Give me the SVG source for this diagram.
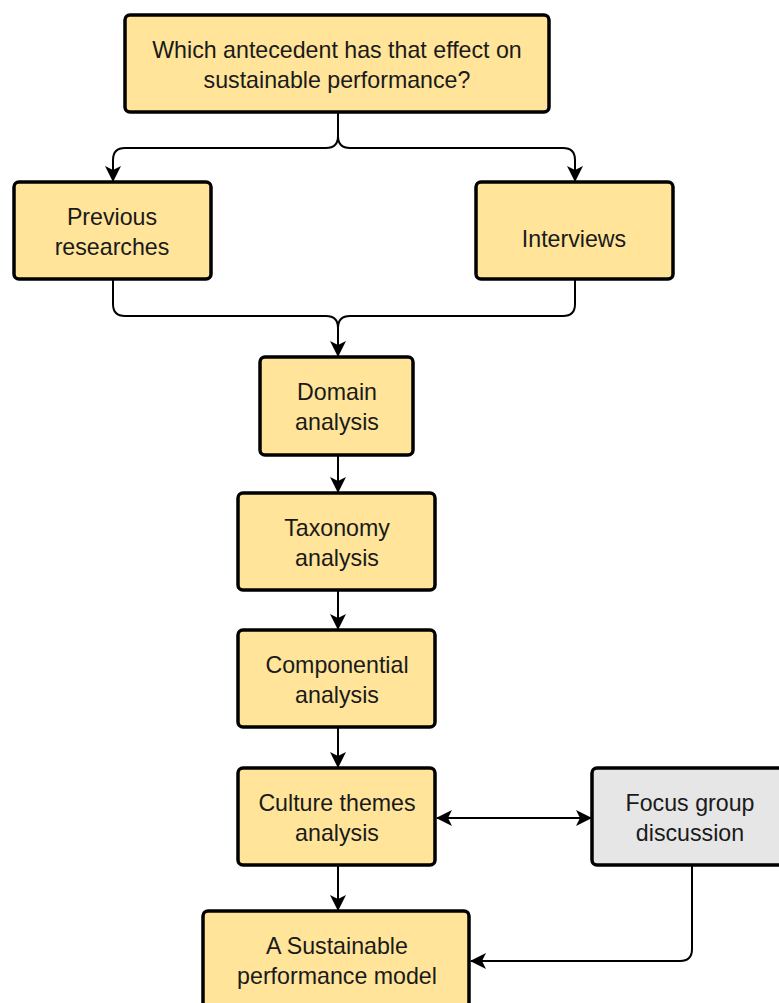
<svg xmlns="http://www.w3.org/2000/svg" width="779" height="1003" viewBox="0 0 779 1003">
<style>
.box{fill:#FFE499;stroke:#000;stroke-width:3.5}
.grey{fill:#E6E6E6;stroke:#000;stroke-width:3.5}
.t{font-family:"Liberation Sans",Arial,sans-serif;font-size:23.2px;fill:#1a1a1a;text-anchor:middle}
.c{fill:none;stroke:#000;stroke-width:2}
</style>
<defs>
<marker id="ah" viewBox="0 0 16 16" refX="15" refY="8" markerWidth="16" markerHeight="16" markerUnits="userSpaceOnUse" orient="auto-start-reverse">
<path d="M0,0 L16,8 L0,16 L4,8 z" fill="#000"/>
</marker>
</defs>
<rect width="779" height="1003" fill="#fff"/>
<g id="connectors">
<path class="c" d="M338,112 V136 Q338,148 326,148 H125 Q113,148 113,160 V181" marker-end="url(#ah)"/>
<path class="c" d="M338,136 Q338,148 350,148 H563 Q575,148 575,160 V181"  marker-end="url(#ah)"/>
<path class="c" d="M113,279 V304 Q113,316 125,316 H326 Q338,316 338,328 V356" marker-end="url(#ah)"/>
<path class="c" d="M575,279 V304 Q575,316 563,316 H350 Q338,316 338,328"/>
<path class="c" d="M338,455 V492" marker-end="url(#ah)"/>
<path class="c" d="M338,590 V629" marker-end="url(#ah)"/>
<path class="c" d="M338,727 V767" marker-end="url(#ah)"/>
<path class="c" d="M338,865 V910" marker-end="url(#ah)"/>
<path class="c" d="M437,818 H591" marker-start="url(#ah)" marker-end="url(#ah)"/>
<path class="c" d="M692,865 V949 Q692,961 680,961 H471" marker-end="url(#ah)"/>
</g>
<g id="n-question"><rect class="box" x="125" y="15" width="424" height="97" rx="5"/><text class="t" x="337" y="58">Which antecedent has that effect on</text><text class="t" x="337" y="88">sustainable performance?</text></g>
<g id="n-previous"><rect class="box" x="14" y="182" width="197" height="97" rx="5"/><text class="t" x="112" y="225">Previous</text><text class="t" x="112" y="255">researches</text></g>
<g id="n-interviews"><rect class="box" x="476" y="182" width="197" height="97" rx="5"/><text class="t" x="574" y="247">Interviews</text></g>
<g id="n-domain"><rect class="box" x="260" y="357" width="153" height="98" rx="5"/><text class="t" x="337" y="400">Domain</text><text class="t" x="337" y="430">analysis</text></g>
<g id="n-taxonomy"><rect class="box" x="238" y="493" width="197" height="97" rx="5"/><text class="t" x="337" y="536">Taxonomy</text><text class="t" x="337" y="566">analysis</text></g>
<g id="n-componential"><rect class="box" x="238" y="630" width="197" height="97" rx="5"/><text class="t" x="337" y="673">Componential</text><text class="t" x="337" y="703">analysis</text></g>
<g id="n-culture"><rect class="box" x="238" y="768" width="197" height="97" rx="5"/><text class="t" x="337" y="811">Culture themes</text><text class="t" x="337" y="841">analysis</text></g>
<g id="n-focus"><rect class="grey" x="592" y="768" width="200" height="97" rx="5"/><text class="t" x="690" y="811">Focus group</text><text class="t" x="690" y="841">discussion</text></g>
<g id="n-model"><rect class="box" x="203" y="911" width="266" height="110" rx="5"/><text class="t" x="337" y="954">A Sustainable</text><text class="t" x="337" y="984">performance model</text></g>
</svg>
